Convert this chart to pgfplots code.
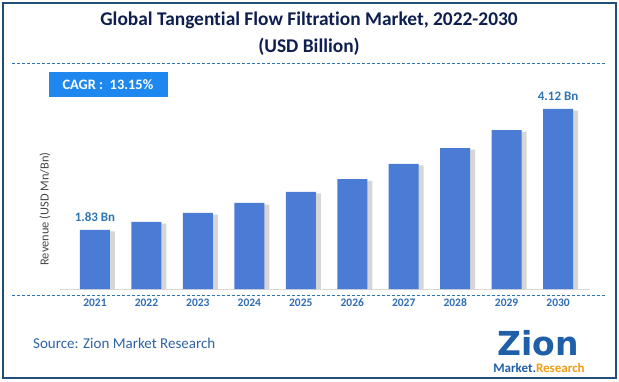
\documentclass[border=0pt]{standalone}
\usepackage{pgfplots}
\pgfplotsset{compat=1.18}
\usepackage{fontspec}
\setmainfont[Ligatures=NoCommon]{Carlito}
\newfontfamily\logofont{DejaVu Sans}
\definecolor{barblue}{HTML}{4A7BD5}
\definecolor{titlenavy}{HTML}{0E1E4E}
\definecolor{framecol}{HTML}{1F4E79}
\definecolor{dashblue}{HTML}{2E75B6}
\definecolor{cagrblue}{HTML}{1E88F0}
\definecolor{yearblue}{HTML}{2F6DB5}
\definecolor{srcblue}{HTML}{2E64A4}
\definecolor{zionblue}{HTML}{1F5FA8}
\definecolor{zionorange}{HTML}{F39C12}
\begin{document}
\begin{tikzpicture}
\path[use as bounding box] (0pt,0pt) rectangle (619pt,381pt);
\fill[white] (0pt,0pt) rectangle (619pt,381pt);
\draw[framecol, line width=1.6pt] (3pt,3pt) rectangle (616pt,378pt);
% title
\node[font=\fontsize{19.4}{22}\selectfont\bfseries, text=titlenavy] at (309pt,361pt) {Global Tangential Flow Filtration Market, 2022-2030};
\node[font=\fontsize{19.4}{22}\selectfont\bfseries, text=titlenavy] at (309pt,334pt) {(USD Billion)};
\draw[dashblue, line width=0.6pt, dash pattern=on 3pt off 2pt] (12pt,318pt) -- (606pt,318pt);
% CAGR box
\fill[cagrblue] (49pt,284pt) rectangle (168pt,309pt);
\node[font=\fontsize{14.4}{16}\selectfont\bfseries, text=white, anchor=west] at (59pt,296.5pt) {CAGR :\ \ 13.15\%};
\begin{axis}[
  at={(60pt,92pt)}, anchor=south west,
  scale only axis, width=530pt, height=180pt,
  xmin=-0.68, xmax=9.62, ymin=0.71, ymax=4.12,
  axis x line*=bottom, axis y line=none,
  x axis line style={draw=gray!30, line width=0.8pt, -},
  xtick=data,
  xticklabels={2021,2022,2023,2024,2025,2026,2027,2028,2029,2030},
  major tick length=0pt,
  xticklabel style={font=\fontsize{11.5}{13}\selectfont\bfseries, text=yearblue, yshift=-6pt},
  ytick=\empty,
  clip=false,
  ybar, bar width=30pt,
]
\addplot[draw=none, fill=gray!45, fill opacity=0.7, bar shift=5pt] coordinates {
 (0,1.80) (1,1.95) (2,2.12) (3,2.31) (4,2.52) (5,2.76) (6,3.05) (7,3.35) (8,3.69) (9,4.09)};
\addplot[draw=none, fill=barblue, bar shift=0pt] coordinates {
 (0,1.83) (1,1.98) (2,2.15) (3,2.34) (4,2.55) (5,2.79) (6,3.08) (7,3.38) (8,3.72) (9,4.12)};
\node[font=\fontsize{13}{15}\selectfont\bfseries, text=dashblue, above] at (axis cs:0,1.83) [yshift=5pt] {1.83 Bn};
\node[font=\fontsize{13}{15}\selectfont\bfseries, text=dashblue, above] at (axis cs:9,4.12) [yshift=5pt] {4.12 Bn};
\end{axis}
\draw[dashblue, line width=0.6pt, dash pattern=on 3pt off 2pt] (12pt,86pt) -- (606pt,86pt);
% y label
\node[rotate=90, font=\fontsize{12.4}{14}\selectfont, text=black!72] at (45pt,172pt) {Revenue (USD Mn/Bn)};
% source
\node[anchor=west, font=\fontsize{15}{17}\selectfont, text=srcblue, inner sep=0pt] at (33pt,38pt) {Source: Zion Market Research};
% logo
\node[font=\logofont\fontsize{33}{35}\selectfont\bfseries, text=zionblue, anchor=base, inner sep=0pt] at (538pt,25.5pt) {Zion};
\node[font=\fontsize{13}{15}\selectfont\bfseries, inner sep=0pt] at (539pt,13.5pt) {\textcolor{zionblue}{Market.}\textcolor{zionorange}{Research}};
\end{tikzpicture}
\end{document}
